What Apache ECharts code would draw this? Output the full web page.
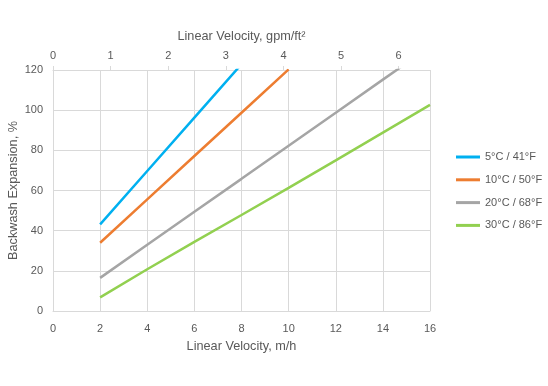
<!DOCTYPE html>
<html>
<head>
<meta charset="utf-8">
<script src="https://cdn.jsdelivr.net/npm/echarts@6/dist/echarts.min.js"></script>
<style>
html,body{margin:0;padding:0;background:#fff;}
#chart{width:548px;height:386px;}
</style>
</head>
<body>
<div id="chart"></div>
<script>
// Data
const seriesNames = ['5°C / 41°F', '10°C / 50°F', '20°C / 68°F', '30°C / 86°F'];
const xBlue   = [2, 4, 6, 8];
const yBlue   = [43.1, 69.7, 96.3, 122.9];
const xOrange = [2, 4, 6, 8, 10];
const yOrange = [34.0, 55.6, 77.2, 98.7, 120.3];
const xGray   = [2, 4, 6, 8, 10, 12, 14, 16];
const yGray   = [16.5, 33.0, 49.4, 65.8, 82.3, 98.7, 115.2, 131.6];
const xGreen  = [2, 4, 6, 8, 10, 12, 14, 16];
const yGreen  = [6.8, 20.8, 34.4, 47.8, 61.3, 75.0, 88.8, 102.6];
const colors  = ['#00B0F0', '#ED7D31', '#A5A5A5', '#92D050'];
const topTicks = [0, 1, 2, 3, 4, 5, 6];
const mhPerGpmFt2 = 2.445;

const pair = (xs, ys) => xs.map((x, i) => [x, ys[i]]);
const allData = [pair(xBlue, yBlue), pair(xOrange, yOrange), pair(xGray, yGray), pair(xGreen, yGreen)];

const FONT = 'Liberation Sans';
const TXT = '#595959';
const GRID = '#D9D9D9';
const TICKFS = 11;
const NAMEFS = 12.7;

const chart = echarts.init(document.getElementById('chart'), null, {renderer: 'canvas'});
chart.setOption({
  animation: false,
  textStyle: {fontFamily: FONT},
  grid: {left: 53, right: 118, top: 70, bottom: 75, containLabel: false, outerBoundsMode: 'none'},
  legend: {
    orient: 'vertical',
    left: 456, top: 150, padding: 0,
    itemWidth: 24, itemHeight: 3, itemGap: 8.8,
    icon: 'rect',
    textStyle: {color: TXT, fontSize: 11, lineHeight: 14, fontFamily: FONT},
    data: seriesNames
  },
  xAxis: [{
    type: 'value', position: 'bottom', min: 0, max: 16, interval: 2,
    name: 'Linear Velocity, m/h', nameLocation: 'middle', nameGap: 29, nameMoveOverlap: false,
    nameTextStyle: {color: TXT, fontSize: NAMEFS, fontFamily: FONT},
    axisLine: {show: true, lineStyle: {color: GRID, width: 1}},
    axisTick: {show: false},
    axisLabel: {color: TXT, fontSize: TICKFS, margin: 12, fontFamily: FONT},
    splitLine: {show: true, lineStyle: {color: GRID, width: 1}}
  }, {
    type: 'value', position: 'top', min: 0, max: 16 / mhPerGpmFt2, interval: 1,
    name: 'Linear Velocity, gpm/ft²', nameLocation: 'middle', nameGap: 27, nameMoveOverlap: false,
    nameTextStyle: {color: TXT, fontSize: NAMEFS, fontFamily: FONT},
    axisLine: {show: true, lineStyle: {color: GRID, width: 1}},
    axisTick: {show: true, length: 4, inside: false, lineStyle: {color: GRID}, customValues: topTicks},
    axisLabel: {color: TXT, fontSize: TICKFS, margin: 9, fontFamily: FONT, customValues: topTicks,
      formatter: v => (Math.abs(v - Math.round(v)) < 1e-6 ? String(Math.round(v)) : '')},
    splitLine: {show: false}
  }],
  yAxis: {
    type: 'value', min: 0, max: 120, interval: 20,
    name: 'Backwash Expansion, %', nameLocation: 'middle', nameGap: 33, nameRotate: 90, nameMoveOverlap: false,
    nameTextStyle: {color: TXT, fontSize: NAMEFS, fontFamily: FONT},
    axisLine: {show: false},
    axisTick: {show: false},
    axisLabel: {color: TXT, fontSize: TICKFS, margin: 10, fontFamily: FONT},
    splitLine: {show: true, lineStyle: {color: GRID, width: 1}}
  },
  series: seriesNames.map((name, i) => ({
    name, type: 'line', xAxisIndex: 0, yAxisIndex: 0,
    data: allData[i], showSymbol: false, symbol: 'none', clip: true,
    lineStyle: {color: colors[i], width: 2.5},
    itemStyle: {color: colors[i]}
  }))
});
</script>
</body>
</html>
